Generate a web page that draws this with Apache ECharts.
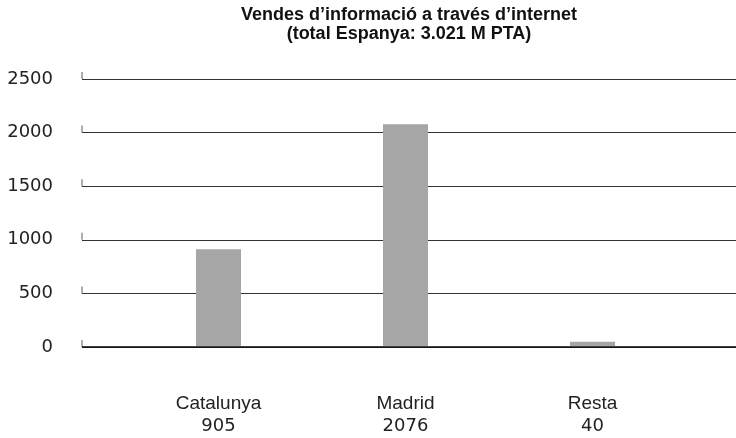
<!DOCTYPE html>
<html>
<head>
<meta charset="utf-8">
<script src="https://cdn.jsdelivr.net/npm/echarts@6/dist/echarts.min.js"></script>
<style>html,body{margin:0;padding:0;background:#fff;}#c{width:736px;height:438px;}</style>
</head>
<body>
<div id="c"></div>
<script>
const categories = ['Catalunya', 'Madrid', 'Resta'];
const values = [905, 2076, 40];
const yTicks = [0, 500, 1000, 1500, 2000, 2500];
const titleLines = ["Vendes d\u2019informació a través d\u2019internet", "(total Espanya: 3.021 M PTA)"];

const chart = echarts.init(document.getElementById('c'), null, {renderer: 'canvas'});
const font = 'Liberation Sans, Arial, sans-serif';
const numFont = 'DejaVu Sans, sans-serif';
chart.setOption({
  animation: false,
  title: {
    text: titleLines.join('\n'),
    left: 404, top: 1, textAlign: 'center',
    textStyle: {fontFamily: font, fontSize: 18, fontWeight: 'bold', color: '#111', lineHeight: 19}
  },
  grid: [
    {left: 82, right: 0, top: 79, bottom: 91},
    {left: 125, right: 50, top: 79, bottom: 91}
  ],
  xAxis: [
    {gridIndex: 0, type: 'value', min: 0, max: 1, show: false},
    {gridIndex: 1, type: 'category', data: categories,
     axisLine: {show: false}, axisTick: {show: false},
     axisLabel: {
       margin: 46, color: '#222', lineHeight: 23,
       formatter: (v, i) => '{n|' + v + '}\n{v|' + values[i] + '}',
       rich: {
         n: {fontFamily: font, fontSize: 19, color: '#222', lineHeight: 23},
         v: {fontFamily: numFont, fontSize: 18, color: '#222', lineHeight: 23}
       }
     }}
  ],
  yAxis: [
    {gridIndex: 0, type: 'value', min: 0, max: 2500, interval: 500,
     axisLine: {show: false}, axisTick: {show: false},
     axisLabel: {margin: 29, fontFamily: numFont, fontSize: 18, color: '#222', formatter: v => String(v)},
     splitLine: {lineStyle: {color: '#333', width: 1}}},
    {gridIndex: 1, type: 'value', min: 0, max: 2500, interval: 500, show: false, splitLine: {show: false}}
  ],
  series: [
    {type: 'bar', xAxisIndex: 1, yAxisIndex: 1, data: values, barWidth: 45,
     itemStyle: {color: '#a6a6a6'}, z: 3},
    {type: 'scatter', xAxisIndex: 0, yAxisIndex: 0, data: yTicks.map(v => [0, v]),
     symbol: 'rect', symbolSize: [1, 7], symbolOffset: [0, -3.5],
     itemStyle: {color: '#333'}, silent: true},
    {type: 'line', xAxisIndex: 0, yAxisIndex: 0, data: [[0, 0], [1, 0]],
     symbol: 'none', lineStyle: {color: '#000', width: 1.5}, silent: true, z: 4}
  ]
});
</script>
</body>
</html>
